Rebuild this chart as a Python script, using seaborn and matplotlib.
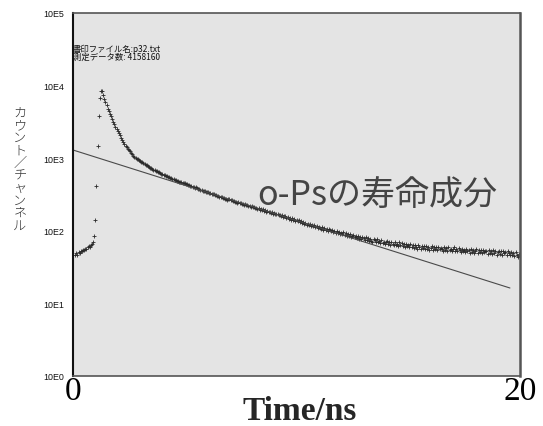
import numpy as np
import pandas as pd
import matplotlib
matplotlib.use("Agg")
import matplotlib.pyplot as plt
import seaborn as sns

# Positron lifetime spectrum: counts per channel (0.05 ns channels starting at 0.10 ns)
channel_start_ns = 0.10
channel_width_ns = 0.05
counts = [
    46, 49, 47, 51, 50, 53, 52, 55, 54, 57, 56, 59, 61, 60, 63, 66, 69, 86,
    142, 420, 1490, 3850, 6700, 8500, 8300, 7400, 6600, 5900, 5320, 4830, 4460, 4090, 3760, 3420, 3160, 2920, 2730, 2520,
    2370, 2190, 2060, 1910, 1800, 1665, 1580, 1485, 1420, 1350, 1300, 1240, 1190, 1130, 1085, 1050, 1015, 985, 960, 935,
    915, 890, 875, 850, 835, 808, 795, 772, 760, 741, 726, 712, 697, 688, 671, 660, 652, 636, 629, 612,
    604, 594, 588, 572, 566, 552, 548, 536, 531, 518, 516, 505, 502, 489, 487, 476, 474, 463, 461, 449,
    452, 440, 438, 429, 425, 417, 414, 405, 403, 393, 396, 385, 381, 376, 368, 367, 358, 356, 349, 345,
    347, 338, 336, 328, 326, 318, 319, 309, 310, 301, 305, 295, 294, 289, 284, 283, 276, 277, 268, 271,
    270, 262, 264, 255, 257, 249, 251, 243, 246, 238, 242, 234, 236, 229, 231, 224, 225, 219, 221, 214,
    218, 210, 213, 205, 209, 201, 205, 196, 200, 193, 197, 188, 193, 184, 188, 180, 184, 176, 181, 172,
    176, 171, 168, 172, 163, 166, 160, 163, 155, 159, 158, 151, 155, 147, 151, 143, 148, 140, 145, 137,
    140, 136, 139, 131, 135, 128, 132, 125, 130, 122, 126, 121, 124, 117, 121, 115, 119, 112, 117, 110,
    113, 111, 107, 112, 104, 109, 102, 106, 100, 105, 103, 98, 103, 96, 100, 94, 99, 92, 97, 91,
    94, 90, 96, 88, 93, 86, 91, 85, 90, 83, 86, 88, 81, 86, 79, 84, 78, 83, 76, 82,
    79, 75, 81, 74, 79, 72, 78, 73, 70, 77, 74, 69, 76, 70, 73, 67, 74, 68, 71, 66,
    69, 72, 65, 70, 64, 71, 66, 63, 70, 64, 66, 62, 69, 63, 67, 61, 66, 60, 65, 62,
    63, 59, 66, 60, 64, 58, 63, 60, 57, 63, 60, 56, 62, 58, 61, 56, 62, 57, 60, 55,
    58, 61, 55, 60, 56, 59, 54, 60, 56, 58, 57, 53, 60, 55, 58, 53, 59, 54, 57, 52,
    56, 59, 53, 57, 52, 58, 54, 51, 57, 53, 55, 51, 57, 52, 55, 50, 56, 51, 54, 50,
    53, 56, 50, 55, 51, 54, 49, 55, 51, 53, 52, 48, 55, 50, 53, 48, 54, 49, 52, 47,
    51, 53, 48, 52, 47, 53, 49, 51, 46, 52, 49, 47, 51, 46, 50, 45, 51, 47, 44, 48,
    45,
]
time_ns = np.round(channel_start_ns + channel_width_ns * np.arange(len(counts)), 2)

# Single-exponential o-Ps component (straight line on the log axis)
fit_time_ns = [0.0, 19.55]
fit_counts = [1297, 16.3]

y_ticks = [1, 10, 100, 1000, 10000, 100000]
y_tick_labels = ["10E0", "10E1", "10E2", "10E3", "10E4", "10E5"]
x_ticks = [0, 20]
x_tick_labels = ["0", "20"]

spectrum = pd.DataFrame({"time": time_ns, "count": counts})
fit = pd.DataFrame({"time": fit_time_ns, "count": fit_counts})

sns.set_style("white")
plt.rcParams["font.family"] = ["Noto Sans CJK JP", "DejaVu Sans"]

W, H = 543, 427
fig = plt.figure(figsize=(W / 100, H / 100), dpi=100)
ax = fig.add_axes([73 / W, 1 - 377 / H, 447 / W, 363 / H])
ax.set_facecolor("#e4e4e4")

sns.lineplot(data=fit, x="time", y="count", ax=ax, color="#4a4a4a", linewidth=0.8)
sns.scatterplot(data=spectrum, x="time", y="count", ax=ax, marker="+",
                s=5, color="#2a2a2a", linewidth=0.6, edgecolor=None)

ax.set_yscale("log")
ax.set_ylim(1, 1e5)
ax.set_xlim(0, 20)
ax.set_yticks(y_ticks)
ax.set_yticklabels(y_tick_labels, fontsize=6.4, family=["Liberation Sans"], color="#111111")
ax.yaxis.set_minor_locator(matplotlib.ticker.NullLocator())
ax.set_xticks(x_ticks)
ax.set_xticklabels(x_tick_labels, fontsize=24, family=["Liberation Serif"], color="#000000")
ax.tick_params(axis="y", length=0, pad=6)
ax.tick_params(axis="x", length=0, pad=0)

ax.set_xlabel("")
ax.set_ylabel("")
fig.text(300 / W, 1 - 420 / H, "Time/ns", fontsize=24, fontweight="bold",
         family=["Liberation Serif"], ha="center", va="baseline")

for side, sp in ax.spines.items():
    sp.set_visible(True)
    sp.set_color("#555555")
    sp.set_linewidth(1.2)
ax.spines["left"].set_color("#111111")
ax.spines["left"].set_linewidth(1.5)
ax.spines["right"].set_linewidth(1.8)

# Vertical Japanese axis title, one character per line
ylabel = "カウント／チャンネル"
fig.text(20 / W, 1 - 170 / H, "\n".join(ylabel), fontsize=9.5, color="#333333",
         ha="center", va="center", linespacing=0.95, fontweight="light")

# File info in the upper left of the plot area
ax.text(0.0, 1 - (49.5 - 14) / 363, "書印ファイル名:p32.txt", transform=ax.transAxes,
        fontsize=6, color="#111111", ha="left", va="center")
ax.text(0.0, 1 - (57.5 - 14) / 363, "測定データ数: 4158160", transform=ax.transAxes,
        fontsize=6, color="#111111", ha="left", va="center")

ax.text((257 - 73) / 447, (377 - 196) / 363, "o-Psの寿命成分", transform=ax.transAxes,
        fontsize=24.5, color="#444444", ha="left", va="center")

fig.savefig("out.png", dpi=100)
